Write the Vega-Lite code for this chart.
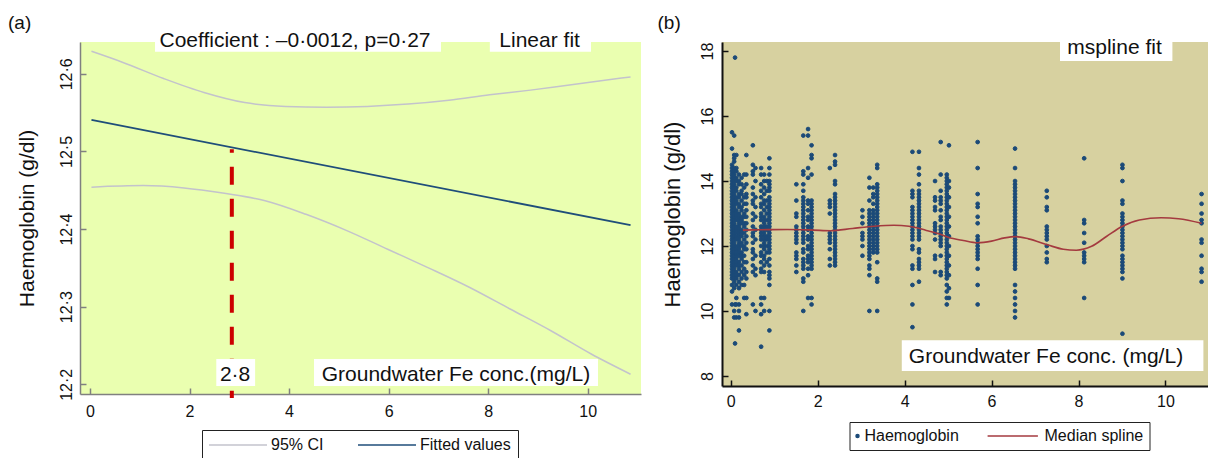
{
"$schema": "https://vega.github.io/schema/vega-lite/v6.json",
"padding": {"left": 8, "top": 14, "right": 0, "bottom": 0},
"spacing": 81,
"bounds": "flush",
"config": {"font": "Liberation Sans", "view": {"stroke": null}},
"resolve": {"scale": {"color": "independent", "shape": "independent"}, "legend": {"color": "independent", "shape": "independent"}},
"datasets": {
"ci": [
{"x":0.03,"y":12.629,"b":"u"},{"x":0.65,"y":12.615,"b":"u"},{"x":1.48,"y":12.594,"b":"u"},{"x":2.29,"y":12.576,"b":"u"},{"x":3.11,"y":12.563,"b":"u"},{"x":3.93,"y":12.558,"b":"u"},{"x":4.75,"y":12.557,"b":"u"},{"x":5.57,"y":12.558,"b":"u"},{"x":6.39,"y":12.561,"b":"u"},{"x":7.21,"y":12.566,"b":"u"},{"x":8.03,"y":12.573,"b":"u"},{"x":8.85,"y":12.579,"b":"u"},{"x":9.67,"y":12.586,"b":"u"},{"x":10.86,"y":12.596,"b":"u"},
{"x":0.03,"y":12.454,"b":"l"},{"x":1.07,"y":12.456,"b":"l"},{"x":1.89,"y":12.453,"b":"l"},{"x":2.70,"y":12.446,"b":"l"},{"x":3.52,"y":12.4365,"b":"l"},{"x":4.34,"y":12.419,"b":"l"},{"x":5.16,"y":12.398,"b":"l"},{"x":5.98,"y":12.374,"b":"l"},{"x":6.80,"y":12.350,"b":"l"},{"x":7.62,"y":12.325,"b":"l"},{"x":8.44,"y":12.297,"b":"l"},{"x":9.26,"y":12.269,"b":"l"},{"x":10.07,"y":12.239,"b":"l"},{"x":10.86,"y":12.213,"b":"l"}
],
"fit": [{"x":0.03,"y":12.5406},{"x":10.86,"y":12.405}],
"annL": [
{"t":"Coefficient : –0·0012, p=0·27","x":4.119,"y":12.6346,"x1":1.307,"x2":7.052,"y1":12.6574,"y2":12.6285},
{"t":"Linear fit","x":9.033,"y":12.635,"x1":8.033,"x2":10.066,"y1":12.6574,"y2":12.6285},
{"t":"2·8","x":2.916,"y":12.2043,"x1":2.538,"x2":3.318,"y1":12.2326,"y2":12.1978},
{"t":"Groundwater Fe conc.(mg/L)","x":7.353,"y":12.2045,"x1":4.501,"x2":10.206,"y1":12.2326,"y2":12.1978}
],
"annR": [
{"t":"mspline fit","x":8.827,"y":17.92,"x1":7.574,"x2":10.159,"y1":18.332,"y2":17.695},
{"t":"Groundwater Fe conc. (mg/L)","x":7.252,"y":8.406,"x1":3.935,"x2":10.872,"y1":9.096,"y2":8.151}
],
"spl": [
{"x":0.28,"y":12.49},{"x":0.7,"y":12.50},{"x":1.3,"y":12.51},{"x":1.9,"y":12.49},{"x":2.3,"y":12.47},{"x":2.8,"y":12.54},{"x":3.3,"y":12.61},{"x":3.75,"y":12.64},{"x":4.1,"y":12.61},{"x":4.5,"y":12.48},{"x":4.8,"y":12.37},{"x":5.0,"y":12.27},{"x":5.35,"y":12.17},{"x":5.68,"y":12.10},{"x":6.0,"y":12.15},{"x":6.3,"y":12.25},{"x":6.55,"y":12.29},{"x":6.85,"y":12.22},{"x":7.3,"y":12.03},{"x":7.65,"y":11.90},{"x":7.95,"y":11.87},{"x":8.3,"y":11.99},{"x":8.65,"y":12.30},{"x":9.0,"y":12.60},{"x":9.4,"y":12.80},{"x":9.9,"y":12.87},{"x":10.3,"y":12.84},{"x":10.83,"y":12.70}
],
"hb": [
{"x":0.03,"y":15.5},{"x":0.03,"y":15.0},{"x":0.03,"y":14.5},{"x":0.03,"y":14.4},{"x":0.03,"y":14.3},{"x":0.03,"y":14.2},{"x":0.03,"y":14.1},{"x":0.03,"y":14.0},{"x":0.03,"y":13.9},{"x":0.03,"y":13.8},{"x":0.03,"y":13.7},{"x":0.03,"y":13.6},{"x":0.03,"y":13.5},{"x":0.03,"y":13.4},{"x":0.03,"y":13.3},{"x":0.03,"y":13.2},{"x":0.03,"y":13.1},{"x":0.03,"y":13.0},{"x":0.03,"y":12.9},{"x":0.03,"y":12.8},{"x":0.03,"y":12.7},{"x":0.03,"y":12.6},{"x":0.03,"y":12.5},{"x":0.03,"y":12.4},{"x":0.03,"y":12.3},{"x":0.03,"y":12.2},{"x":0.03,"y":12.1},{"x":0.03,"y":12.0},{"x":0.03,"y":11.9},{"x":0.03,"y":11.8},{"x":0.03,"y":11.7},{"x":0.03,"y":11.6},{"x":0.03,"y":11.5},{"x":0.03,"y":11.4},{"x":0.03,"y":11.3},{"x":0.03,"y":11.2},{"x":0.03,"y":11.1},{"x":0.03,"y":11.0},{"x":0.03,"y":10.8},{"x":0.03,"y":10.6},{"x":0.03,"y":10.2},
{"x":0.08,"y":15.4},{"x":0.08,"y":14.8},{"x":0.08,"y":14.7},{"x":0.08,"y":14.6},{"x":0.08,"y":14.4},{"x":0.08,"y":14.3},{"x":0.08,"y":14.2},{"x":0.08,"y":14.1},{"x":0.08,"y":14.0},{"x":0.08,"y":13.9},{"x":0.08,"y":13.8},{"x":0.08,"y":13.7},{"x":0.08,"y":13.6},{"x":0.08,"y":13.5},{"x":0.08,"y":13.4},{"x":0.08,"y":13.3},{"x":0.08,"y":13.2},{"x":0.08,"y":13.1},{"x":0.08,"y":13.0},{"x":0.08,"y":12.9},{"x":0.08,"y":12.8},{"x":0.08,"y":12.7},{"x":0.08,"y":12.6},{"x":0.08,"y":12.5},{"x":0.08,"y":12.4},{"x":0.08,"y":12.3},{"x":0.08,"y":12.2},{"x":0.08,"y":12.1},{"x":0.08,"y":12.0},{"x":0.08,"y":11.9},{"x":0.08,"y":11.8},{"x":0.08,"y":11.7},{"x":0.08,"y":11.6},{"x":0.08,"y":11.5},{"x":0.08,"y":11.4},{"x":0.08,"y":11.3},{"x":0.08,"y":11.2},{"x":0.08,"y":11.1},{"x":0.08,"y":11.0},{"x":0.08,"y":10.9},{"x":0.08,"y":10.7},{"x":0.08,"y":10.0},{"x":0.08,"y":9.8},
{"x":0.10,"y":17.8},{"x":0.10,"y":9.0},{"x":0.10,"y":10.2},
{"x":0.13,"y":14.8},{"x":0.13,"y":14.4},{"x":0.13,"y":14.3},{"x":0.13,"y":14.1},{"x":0.13,"y":14.0},{"x":0.13,"y":13.8},{"x":0.13,"y":13.7},{"x":0.13,"y":13.5},{"x":0.13,"y":13.4},{"x":0.13,"y":13.3},{"x":0.13,"y":13.1},{"x":0.13,"y":13.0},{"x":0.13,"y":12.9},{"x":0.13,"y":12.8},{"x":0.13,"y":12.6},{"x":0.13,"y":12.5},{"x":0.13,"y":12.4},{"x":0.13,"y":12.3},{"x":0.13,"y":12.2},{"x":0.13,"y":12.0},{"x":0.13,"y":11.9},{"x":0.13,"y":11.8},{"x":0.13,"y":11.7},{"x":0.13,"y":11.6},{"x":0.13,"y":11.5},{"x":0.13,"y":11.4},{"x":0.13,"y":11.2},{"x":0.13,"y":11.1},{"x":0.13,"y":11.0},{"x":0.13,"y":10.8},{"x":0.13,"y":10.4},{"x":0.13,"y":10.2},{"x":0.13,"y":9.8},
{"x":0.19,"y":14.2},{"x":0.19,"y":14.0},{"x":0.19,"y":13.9},{"x":0.19,"y":13.6},{"x":0.19,"y":13.5},{"x":0.19,"y":13.3},{"x":0.19,"y":13.2},{"x":0.19,"y":13.0},{"x":0.19,"y":12.9},{"x":0.19,"y":12.8},{"x":0.19,"y":12.7},{"x":0.19,"y":12.6},{"x":0.19,"y":12.5},{"x":0.19,"y":12.4},{"x":0.19,"y":12.3},{"x":0.19,"y":12.2},{"x":0.19,"y":12.1},{"x":0.19,"y":12.0},{"x":0.19,"y":11.9},{"x":0.19,"y":11.8},{"x":0.19,"y":11.7},{"x":0.19,"y":11.5},{"x":0.19,"y":11.4},{"x":0.19,"y":11.3},{"x":0.19,"y":11.1},{"x":0.19,"y":10.9},{"x":0.19,"y":10.7},{"x":0.19,"y":10.2},{"x":0.19,"y":10.0},{"x":0.19,"y":9.8},{"x":0.19,"y":9.4},
{"x":0.25,"y":14.1},{"x":0.25,"y":13.9},{"x":0.25,"y":13.7},{"x":0.25,"y":13.6},{"x":0.25,"y":13.4},{"x":0.25,"y":13.2},{"x":0.25,"y":13.1},{"x":0.25,"y":12.9},{"x":0.25,"y":12.8},{"x":0.25,"y":12.7},{"x":0.25,"y":12.5},{"x":0.25,"y":12.4},{"x":0.25,"y":12.3},{"x":0.25,"y":12.1},{"x":0.25,"y":12.0},{"x":0.25,"y":11.8},{"x":0.25,"y":11.7},{"x":0.25,"y":11.6},{"x":0.25,"y":11.4},{"x":0.25,"y":11.2},{"x":0.25,"y":11.0},{"x":0.25,"y":10.8},
{"x":0.31,"y":14.2},{"x":0.31,"y":13.8},{"x":0.31,"y":13.5},{"x":0.31,"y":13.3},{"x":0.31,"y":13.0},{"x":0.31,"y":12.9},{"x":0.31,"y":12.7},{"x":0.31,"y":12.6},{"x":0.31,"y":12.4},{"x":0.31,"y":12.2},{"x":0.31,"y":12.0},{"x":0.31,"y":11.9},{"x":0.31,"y":11.7},{"x":0.31,"y":11.5},{"x":0.31,"y":11.3},{"x":0.31,"y":11.1},{"x":0.31,"y":10.8},{"x":0.31,"y":10.4},
{"x":0.36,"y":14.8},{"x":0.36,"y":14.2},{"x":0.36,"y":13.9},{"x":0.36,"y":13.6},{"x":0.36,"y":13.5},{"x":0.36,"y":13.3},{"x":0.36,"y":13.1},{"x":0.36,"y":12.9},{"x":0.36,"y":12.7},{"x":0.36,"y":12.5},{"x":0.36,"y":12.3},{"x":0.36,"y":12.1},{"x":0.36,"y":11.9},{"x":0.36,"y":11.5},{"x":0.36,"y":11.2},{"x":0.36,"y":11.0},{"x":0.36,"y":10.4},{"x":0.36,"y":9.9},
{"x":0.51,"y":15.1},{"x":0.51,"y":14.5},{"x":0.51,"y":14.3},{"x":0.51,"y":14.2},{"x":0.51,"y":13.8},{"x":0.51,"y":13.6},{"x":0.51,"y":13.4},{"x":0.51,"y":13.3},{"x":0.51,"y":13.0},{"x":0.51,"y":12.8},{"x":0.51,"y":12.6},{"x":0.51,"y":12.4},{"x":0.51,"y":12.3},{"x":0.51,"y":12.1},{"x":0.51,"y":11.9},{"x":0.51,"y":11.8},{"x":0.51,"y":11.6},{"x":0.51,"y":11.4},{"x":0.51,"y":11.2},{"x":0.51,"y":10.2},
{"x":0.57,"y":14.4},{"x":0.57,"y":14.0},{"x":0.57,"y":13.5},{"x":0.57,"y":13.2},{"x":0.57,"y":12.9},{"x":0.57,"y":12.5},{"x":0.57,"y":12.2},{"x":0.57,"y":11.7},{"x":0.57,"y":11.3},{"x":0.57,"y":11.1},{"x":0.57,"y":10.0},
{"x":0.70,"y":14.4},{"x":0.70,"y":14.2},{"x":0.70,"y":13.9},{"x":0.70,"y":13.7},{"x":0.70,"y":13.5},{"x":0.70,"y":13.3},{"x":0.70,"y":13.2},{"x":0.70,"y":13.0},{"x":0.70,"y":12.9},{"x":0.70,"y":12.8},{"x":0.70,"y":12.6},{"x":0.70,"y":12.5},{"x":0.70,"y":12.4},{"x":0.70,"y":12.3},{"x":0.70,"y":12.2},{"x":0.70,"y":12.0},{"x":0.70,"y":11.8},{"x":0.70,"y":11.7},{"x":0.70,"y":11.5},{"x":0.70,"y":11.3},{"x":0.70,"y":11.2},{"x":0.70,"y":10.4},{"x":0.70,"y":10.2},{"x":0.70,"y":9.9},{"x":0.70,"y":8.9},
{"x":0.77,"y":14.2},{"x":0.77,"y":14.0},{"x":0.77,"y":13.8},{"x":0.77,"y":13.6},{"x":0.77,"y":13.4},{"x":0.77,"y":13.3},{"x":0.77,"y":13.1},{"x":0.77,"y":12.9},{"x":0.77,"y":12.8},{"x":0.77,"y":12.7},{"x":0.77,"y":12.6},{"x":0.77,"y":12.5},{"x":0.77,"y":12.4},{"x":0.77,"y":12.3},{"x":0.77,"y":12.2},{"x":0.77,"y":12.1},{"x":0.77,"y":12.0},{"x":0.77,"y":11.9},{"x":0.77,"y":11.7},{"x":0.77,"y":11.6},{"x":0.77,"y":11.4},{"x":0.77,"y":11.2},{"x":0.77,"y":10.4},{"x":0.77,"y":10.0},
{"x":0.83,"y":14.0},{"x":0.83,"y":13.7},{"x":0.83,"y":13.4},{"x":0.83,"y":13.2},{"x":0.83,"y":13.0},{"x":0.83,"y":12.8},{"x":0.83,"y":12.6},{"x":0.83,"y":12.5},{"x":0.83,"y":12.3},{"x":0.83,"y":12.2},{"x":0.83,"y":12.0},{"x":0.83,"y":11.8},{"x":0.83,"y":11.5},
{"x":0.89,"y":14.7},{"x":0.89,"y":14.4},{"x":0.89,"y":14.2},{"x":0.89,"y":14.0},{"x":0.89,"y":13.9},{"x":0.89,"y":13.8},{"x":0.89,"y":13.7},{"x":0.89,"y":13.5},{"x":0.89,"y":13.4},{"x":0.89,"y":13.3},{"x":0.89,"y":13.2},{"x":0.89,"y":13.1},{"x":0.89,"y":13.0},{"x":0.89,"y":12.9},{"x":0.89,"y":12.8},{"x":0.89,"y":12.7},{"x":0.89,"y":12.6},{"x":0.89,"y":12.5},{"x":0.89,"y":12.4},{"x":0.89,"y":12.3},{"x":0.89,"y":12.2},{"x":0.89,"y":12.1},{"x":0.89,"y":12.0},{"x":0.89,"y":11.9},{"x":0.89,"y":11.8},{"x":0.89,"y":11.6},{"x":0.89,"y":11.4},{"x":0.89,"y":11.2},{"x":0.89,"y":11.1},{"x":0.89,"y":11.0},{"x":0.89,"y":10.8},{"x":0.89,"y":10.0},{"x":0.89,"y":9.4},
{"x":1.51,"y":13.9},{"x":1.51,"y":13.4},{"x":1.51,"y":13.0},{"x":1.51,"y":12.9},{"x":1.51,"y":12.6},{"x":1.51,"y":12.5},{"x":1.51,"y":12.4},{"x":1.51,"y":12.3},{"x":1.51,"y":12.2},{"x":1.51,"y":12.1},{"x":1.51,"y":11.8},{"x":1.51,"y":11.7},{"x":1.51,"y":11.6},{"x":1.51,"y":11.4},{"x":1.51,"y":11.2},
{"x":1.67,"y":15.4},{"x":1.67,"y":14.3},{"x":1.67,"y":14.2},{"x":1.67,"y":13.9},{"x":1.67,"y":13.7},{"x":1.67,"y":13.5},{"x":1.67,"y":13.4},{"x":1.67,"y":13.3},{"x":1.67,"y":13.2},{"x":1.67,"y":13.1},{"x":1.67,"y":13.0},{"x":1.67,"y":12.9},{"x":1.67,"y":12.8},{"x":1.67,"y":12.7},{"x":1.67,"y":12.6},{"x":1.67,"y":12.5},{"x":1.67,"y":12.4},{"x":1.67,"y":12.3},{"x":1.67,"y":12.2},{"x":1.67,"y":12.1},{"x":1.67,"y":11.9},{"x":1.67,"y":11.8},{"x":1.67,"y":11.6},{"x":1.67,"y":11.5},{"x":1.67,"y":11.4},{"x":1.67,"y":11.3},{"x":1.67,"y":11.0},{"x":1.67,"y":10.9},{"x":1.67,"y":10.0},
{"x":1.78,"y":15.6},{"x":1.78,"y":15.4},{"x":1.78,"y":14.4},{"x":1.78,"y":14.1},{"x":1.78,"y":13.4},{"x":1.78,"y":13.3},{"x":1.78,"y":13.1},{"x":1.78,"y":12.9},{"x":1.78,"y":12.8},{"x":1.78,"y":12.6},{"x":1.78,"y":12.5},{"x":1.78,"y":12.3},{"x":1.78,"y":12.2},{"x":1.78,"y":12.0},{"x":1.78,"y":11.9},{"x":1.78,"y":11.7},{"x":1.78,"y":11.6},{"x":1.78,"y":11.5},{"x":1.78,"y":11.3},{"x":1.78,"y":11.1},{"x":1.78,"y":10.4},
{"x":1.86,"y":15.1},{"x":1.86,"y":14.8},{"x":1.86,"y":14.7},{"x":1.86,"y":14.2},{"x":1.86,"y":13.4},{"x":1.86,"y":13.3},{"x":1.86,"y":13.2},{"x":1.86,"y":13.1},{"x":1.86,"y":13.0},{"x":1.86,"y":12.9},{"x":1.86,"y":12.8},{"x":1.86,"y":12.7},{"x":1.86,"y":12.6},{"x":1.86,"y":12.5},{"x":1.86,"y":12.4},{"x":1.86,"y":12.3},{"x":1.86,"y":12.2},{"x":1.86,"y":12.1},{"x":1.86,"y":12.0},{"x":1.86,"y":11.9},{"x":1.86,"y":11.8},{"x":1.86,"y":11.7},{"x":1.86,"y":11.6},{"x":1.86,"y":11.5},{"x":1.86,"y":11.4},{"x":1.86,"y":11.3},{"x":1.86,"y":10.4},{"x":1.86,"y":10.2},
{"x":2.28,"y":14.4},{"x":2.28,"y":13.4},{"x":2.28,"y":13.3},{"x":2.28,"y":13.2},{"x":2.28,"y":13.0},{"x":2.28,"y":12.4},{"x":2.28,"y":12.3},{"x":2.28,"y":12.2},{"x":2.28,"y":12.1},{"x":2.28,"y":11.9},{"x":2.28,"y":11.6},{"x":2.28,"y":11.4},
{"x":2.40,"y":14.8},{"x":2.40,"y":14.6},{"x":2.40,"y":14.5},{"x":2.40,"y":14.0},{"x":2.40,"y":13.9},{"x":2.40,"y":13.6},{"x":2.40,"y":13.5},{"x":2.40,"y":13.4},{"x":2.40,"y":13.3},{"x":2.40,"y":13.2},{"x":2.40,"y":13.1},{"x":2.40,"y":13.0},{"x":2.40,"y":12.9},{"x":2.40,"y":12.8},{"x":2.40,"y":12.7},{"x":2.40,"y":12.6},{"x":2.40,"y":12.5},{"x":2.40,"y":12.4},{"x":2.40,"y":12.3},{"x":2.40,"y":12.2},{"x":2.40,"y":12.1},{"x":2.40,"y":12.0},{"x":2.40,"y":11.9},{"x":2.40,"y":11.8},{"x":2.40,"y":11.7},{"x":2.40,"y":11.6},{"x":2.40,"y":11.5},{"x":2.40,"y":11.4},
{"x":3.03,"y":13.1},{"x":3.03,"y":12.9},{"x":3.03,"y":12.7},{"x":3.03,"y":12.4},{"x":3.03,"y":12.3},{"x":3.03,"y":12.2},{"x":3.03,"y":12.0},{"x":3.03,"y":11.7},
{"x":3.19,"y":14.1},{"x":3.19,"y":13.8},{"x":3.19,"y":13.4},{"x":3.19,"y":13.1},{"x":3.19,"y":13.0},{"x":3.19,"y":12.9},{"x":3.19,"y":12.8},{"x":3.19,"y":12.7},{"x":3.19,"y":12.6},{"x":3.19,"y":12.5},{"x":3.19,"y":12.4},{"x":3.19,"y":12.3},{"x":3.19,"y":12.2},{"x":3.19,"y":12.1},{"x":3.19,"y":12.0},{"x":3.19,"y":11.9},{"x":3.19,"y":11.8},{"x":3.19,"y":11.7},{"x":3.19,"y":11.6},{"x":3.19,"y":11.4},{"x":3.19,"y":11.3},{"x":3.19,"y":11.1},{"x":3.19,"y":10.0},
{"x":3.28,"y":13.8},{"x":3.28,"y":13.6},{"x":3.28,"y":13.5},{"x":3.28,"y":13.3},{"x":3.28,"y":13.1},{"x":3.28,"y":13.0},{"x":3.28,"y":12.9},{"x":3.28,"y":12.8},{"x":3.28,"y":12.7},{"x":3.28,"y":12.6},{"x":3.28,"y":12.5},{"x":3.28,"y":12.4},{"x":3.28,"y":12.3},{"x":3.28,"y":12.2},{"x":3.28,"y":12.1},{"x":3.28,"y":12.0},{"x":3.28,"y":11.9},{"x":3.28,"y":11.8},
{"x":3.37,"y":14.5},{"x":3.37,"y":14.4},{"x":3.37,"y":13.9},{"x":3.37,"y":13.8},{"x":3.37,"y":13.7},{"x":3.37,"y":13.6},{"x":3.37,"y":13.5},{"x":3.37,"y":13.4},{"x":3.37,"y":13.3},{"x":3.37,"y":13.2},{"x":3.37,"y":13.1},{"x":3.37,"y":13.0},{"x":3.37,"y":12.9},{"x":3.37,"y":12.8},{"x":3.37,"y":12.7},{"x":3.37,"y":12.6},{"x":3.37,"y":12.5},{"x":3.37,"y":12.4},{"x":3.37,"y":12.3},{"x":3.37,"y":12.2},{"x":3.37,"y":12.1},{"x":3.37,"y":12.0},{"x":3.37,"y":11.9},{"x":3.37,"y":11.8},{"x":3.37,"y":11.5},{"x":3.37,"y":11.0},{"x":3.37,"y":10.9},{"x":3.37,"y":10.0},
{"x":4.18,"y":14.9},{"x":4.18,"y":13.7},{"x":4.18,"y":13.6},{"x":4.18,"y":13.5},{"x":4.18,"y":13.2},{"x":4.18,"y":13.1},{"x":4.18,"y":13.0},{"x":4.18,"y":12.9},{"x":4.18,"y":12.8},{"x":4.18,"y":12.7},{"x":4.18,"y":12.6},{"x":4.18,"y":12.5},{"x":4.18,"y":12.4},{"x":4.18,"y":12.3},{"x":4.18,"y":12.2},{"x":4.18,"y":12.0},{"x":4.18,"y":11.9},{"x":4.18,"y":11.4},{"x":4.18,"y":11.3},{"x":4.18,"y":10.8},{"x":4.18,"y":10.2},{"x":4.18,"y":9.5},
{"x":4.33,"y":14.9},{"x":4.33,"y":14.4},{"x":4.33,"y":14.2},{"x":4.33,"y":13.9},{"x":4.33,"y":13.7},{"x":4.33,"y":13.6},{"x":4.33,"y":13.5},{"x":4.33,"y":13.4},{"x":4.33,"y":13.3},{"x":4.33,"y":13.2},{"x":4.33,"y":13.1},{"x":4.33,"y":13.0},{"x":4.33,"y":12.9},{"x":4.33,"y":12.8},{"x":4.33,"y":12.7},{"x":4.33,"y":12.6},{"x":4.33,"y":12.5},{"x":4.33,"y":12.4},{"x":4.33,"y":12.3},{"x":4.33,"y":12.2},{"x":4.33,"y":11.9},{"x":4.33,"y":11.8},{"x":4.33,"y":11.6},{"x":4.33,"y":11.5},{"x":4.33,"y":11.4},{"x":4.33,"y":11.3},{"x":4.33,"y":10.9},
{"x":4.70,"y":14.0},{"x":4.70,"y":13.5},{"x":4.70,"y":13.4},{"x":4.70,"y":13.2},{"x":4.70,"y":13.1},{"x":4.70,"y":12.7},{"x":4.70,"y":12.6},{"x":4.70,"y":12.5},{"x":4.70,"y":12.4},{"x":4.70,"y":12.2},{"x":4.70,"y":11.7},{"x":4.70,"y":11.6},{"x":4.70,"y":11.2},
{"x":4.83,"y":15.2},{"x":4.83,"y":14.2},{"x":4.83,"y":13.7},{"x":4.83,"y":13.5},{"x":4.83,"y":13.4},{"x":4.83,"y":13.3},{"x":4.83,"y":13.1},{"x":4.83,"y":12.9},{"x":4.83,"y":12.8},{"x":4.83,"y":12.6},{"x":4.83,"y":12.5},{"x":4.83,"y":12.4},{"x":4.83,"y":12.3},{"x":4.83,"y":12.2},{"x":4.83,"y":12.1},{"x":4.83,"y":12.0},{"x":4.83,"y":11.7},{"x":4.83,"y":11.2},{"x":4.83,"y":11.1},
{"x":4.97,"y":14.2},{"x":4.97,"y":14.1},{"x":4.97,"y":14.0},{"x":4.97,"y":13.9},{"x":4.97,"y":13.8},{"x":4.97,"y":13.7},{"x":4.97,"y":13.6},{"x":4.97,"y":13.5},{"x":4.97,"y":13.4},{"x":4.97,"y":13.3},{"x":4.97,"y":13.2},{"x":4.97,"y":13.1},{"x":4.97,"y":13.0},{"x":4.97,"y":12.9},{"x":4.97,"y":12.8},{"x":4.97,"y":12.7},{"x":4.97,"y":12.6},{"x":4.97,"y":12.5},{"x":4.97,"y":12.4},{"x":4.97,"y":12.3},{"x":4.97,"y":12.2},{"x":4.97,"y":12.1},{"x":4.97,"y":12.0},{"x":4.97,"y":11.9},{"x":4.97,"y":11.8},{"x":4.97,"y":11.7},{"x":4.97,"y":11.6},{"x":4.97,"y":11.5},{"x":4.97,"y":11.4},{"x":4.97,"y":11.3},{"x":4.97,"y":11.2},{"x":4.97,"y":11.1},{"x":4.97,"y":11.0},{"x":4.97,"y":10.8},{"x":4.97,"y":10.6},{"x":4.97,"y":10.4},{"x":4.97,"y":10.2},
{"x":5.02,"y":15.1},{"x":5.02,"y":14.0},{"x":5.02,"y":13.8},{"x":5.02,"y":13.5},{"x":5.02,"y":13.2},{"x":5.02,"y":12.9},{"x":5.02,"y":12.6},{"x":5.02,"y":12.3},{"x":5.02,"y":12.0},{"x":5.02,"y":11.7},{"x":5.02,"y":11.4},{"x":5.02,"y":11.1},{"x":5.02,"y":10.7},{"x":5.02,"y":10.4},
{"x":5.68,"y":15.2},{"x":5.68,"y":14.4},{"x":5.68,"y":13.6},{"x":5.68,"y":13.3},{"x":5.68,"y":13.2},{"x":5.68,"y":12.9},{"x":5.68,"y":12.7},{"x":5.68,"y":12.3},{"x":5.68,"y":12.2},{"x":5.68,"y":12.1},{"x":5.68,"y":12.0},{"x":5.68,"y":11.9},{"x":5.68,"y":11.8},{"x":5.68,"y":11.7},{"x":5.68,"y":11.6},{"x":5.68,"y":11.3},{"x":5.68,"y":10.8},{"x":5.68,"y":10.2},
{"x":6.54,"y":15.0},{"x":6.54,"y":14.4},{"x":6.54,"y":14.0},{"x":6.54,"y":13.9},{"x":6.54,"y":13.8},{"x":6.54,"y":13.7},{"x":6.54,"y":13.6},{"x":6.54,"y":13.5},{"x":6.54,"y":13.4},{"x":6.54,"y":13.3},{"x":6.54,"y":13.2},{"x":6.54,"y":13.1},{"x":6.54,"y":13.0},{"x":6.54,"y":12.9},{"x":6.54,"y":12.8},{"x":6.54,"y":12.7},{"x":6.54,"y":12.6},{"x":6.54,"y":12.5},{"x":6.54,"y":12.4},{"x":6.54,"y":12.3},{"x":6.54,"y":12.2},{"x":6.54,"y":12.1},{"x":6.54,"y":12.0},{"x":6.54,"y":11.9},{"x":6.54,"y":11.8},{"x":6.54,"y":11.7},{"x":6.54,"y":11.6},{"x":6.54,"y":11.5},{"x":6.54,"y":11.4},{"x":6.54,"y":11.3},{"x":6.54,"y":10.8},{"x":6.54,"y":10.6},{"x":6.54,"y":10.4},{"x":6.54,"y":10.2},{"x":6.54,"y":10.0},{"x":6.54,"y":9.8},
{"x":7.27,"y":13.7},{"x":7.27,"y":13.5},{"x":7.27,"y":13.2},{"x":7.27,"y":13.1},{"x":7.27,"y":12.6},{"x":7.27,"y":12.5},{"x":7.27,"y":12.4},{"x":7.27,"y":12.3},{"x":7.27,"y":12.2},{"x":7.27,"y":12.0},{"x":7.27,"y":11.8},{"x":7.27,"y":11.6},{"x":7.27,"y":11.5},
{"x":8.13,"y":14.7},{"x":8.13,"y":12.8},{"x":8.13,"y":12.7},{"x":8.13,"y":12.4},{"x":8.13,"y":12.1},{"x":8.13,"y":11.8},{"x":8.13,"y":11.7},{"x":8.13,"y":11.6},{"x":8.13,"y":11.5},{"x":8.13,"y":10.4},
{"x":9.01,"y":14.5},{"x":9.01,"y":14.4},{"x":9.01,"y":14.0},{"x":9.01,"y":13.4},{"x":9.01,"y":13.3},{"x":9.01,"y":13.0},{"x":9.01,"y":12.9},{"x":9.01,"y":12.8},{"x":9.01,"y":12.7},{"x":9.01,"y":12.6},{"x":9.01,"y":12.5},{"x":9.01,"y":12.4},{"x":9.01,"y":12.3},{"x":9.01,"y":12.2},{"x":9.01,"y":12.1},{"x":9.01,"y":12.0},{"x":9.01,"y":11.9},{"x":9.01,"y":11.7},{"x":9.01,"y":11.6},{"x":9.01,"y":11.5},{"x":9.01,"y":11.4},{"x":9.01,"y":11.3},{"x":9.01,"y":11.2},{"x":9.01,"y":11.0},{"x":9.01,"y":9.3},
{"x":10.83,"y":13.6},{"x":10.83,"y":13.3},{"x":10.83,"y":13.0},{"x":10.83,"y":12.8},{"x":10.83,"y":12.7},{"x":10.83,"y":12.2},{"x":10.83,"y":12.1},{"x":10.83,"y":11.7},{"x":10.83,"y":11.3},{"x":10.83,"y":11.2},{"x":10.83,"y":10.9}
]
},
"hconcat": [
{
"width": 561, "height": 352,
"view": {"fill": "#eaffb0", "stroke": null},
"encoding": {
"x": {"field": "x", "type": "quantitative", "scale": {"domain": [-0.2, 11.07], "nice": false, "zero": false},
 "axis": {"values": [0,2,4,6,8,10], "title": null, "grid": false, "tickSize": -6, "labelPadding": 15, "labelFontSize": 16, "labelColor": "#111", "domainColor": "#808080", "tickColor": "#808080", "domainWidth": 1.5, "tickWidth": 1.5, "labelFlush": false}},
"y": {"field": "y", "type": "quantitative", "scale": {"domain": [12.1875, 12.641], "nice": false, "zero": false},
 "axis": {"values": [12.2,12.3,12.4,12.5,12.6], "title": "Haemoglobin (g/dl)", "titleFontSize": 21, "titleFontWeight": "normal", "titleColor": "#111", "titleAngle": -90, "titleBaseline": "bottom", "titleX": -43, "titleY": 176, "titleAlign": "center", "grid": false, "tickSize": -6, "labelPadding": 12, "labelFontSize": 16, "labelColor": "#111", "labelAngle": -90, "labelAlign": "center", "labelBaseline": "bottom", "labelExpr": "replace(format(datum.value, '.1f'), '.', '·')", "domainColor": "#808080", "tickColor": "#808080", "domainWidth": 1.5, "tickWidth": 1.5, "labelFlush": false}}
},
"layer": [
{"data": {"name": "ci"}, "mark": {"type": "line", "interpolate": "monotone", "strokeWidth": 1.5},
 "encoding": {"detail": {"field": "b"},
  "color": {"datum": "95% CI", "scale": {"domain": ["95% CI", "Fitted values"], "range": ["#c3c3cc", "#1f4e7a"]},
   "legend": {"orient": "none", "legendX": 122, "legendY": 388, "direction": "horizontal", "title": null, "strokeColor": "#222", "fillColor": "white", "padding": 7, "labelFontSize": 16, "labelColor": "#111", "symbolType": "M-1.333,0H8.333", "symbolSize": 144, "symbolStrokeWidth": 1.5, "labelOffset": 46, "columnPadding": 31}}}},
{"data": {"name": "fit"}, "mark": {"type": "line", "strokeWidth": 1.8},
 "encoding": {"color": {"datum": "Fitted values"}}},
{"data": {"values": [{"x": 2.85, "y": 12.5028, "y2": 12.1824}]}, "mark": {"type": "rule", "color": "#cc0000", "strokeWidth": 4, "strokeDash": [18, 14], "strokeDashOffset": 14.6},
 "encoding": {"y2": {"field": "y2"}}},
{"data": {"name": "annL"}, "mark": {"type": "rect", "fill": "white"},
 "encoding": {"x": {"field": "x1", "type": "quantitative"}, "x2": {"field": "x2"}, "y": {"field": "y1", "type": "quantitative"}, "y2": {"field": "y2"}}},
{"data": {"name": "annL"}, "mark": {"type": "text", "fontSize": 21, "align": "center", "baseline": "alphabetic", "color": "#111"},
 "encoding": {"text": {"field": "t"}}},
{"data": {"values": [{"t": "(a)", "x": -1.6464, "y": 12.6577}]}, "mark": {"type": "text", "fontSize": 19, "align": "left", "baseline": "alphabetic", "color": "#111"},
 "encoding": {"text": {"field": "t"}}}
]
},
{
"width": 490, "height": 344,
"view": {"fill": "#d7d1a0", "stroke": null},
"encoding": {
"x": {"field": "x", "type": "quantitative", "scale": {"domain": [-0.2, 11.07], "nice": false, "zero": false},
 "axis": {"values": [0,2,4,6,8,10], "title": null, "grid": false, "tickSize": -6, "labelPadding": 13, "labelFontSize": 16, "labelColor": "#111", "domainColor": "#111", "tickColor": "#111", "domainWidth": 2, "tickWidth": 1.5, "labelFlush": false}},
"y": {"field": "y", "type": "quantitative", "scale": {"domain": [7.69, 18.28], "nice": false, "zero": false},
 "axis": {"values": [8,10,12,14,16,18], "title": "Haemoglobin (g/dl)", "titleFontSize": 22, "titleFontWeight": "normal", "titleColor": "#111", "titleAngle": -90, "titleBaseline": "bottom", "titleX": -37.5, "titleY": 172, "titleAlign": "center", "grid": false, "tickSize": -6, "labelPadding": 13, "labelFontSize": 16, "labelColor": "#111", "labelAngle": -90, "labelAlign": "center", "labelBaseline": "bottom", "domainColor": "#111", "tickColor": "#111", "domainWidth": 2, "tickWidth": 1.5, "labelFlush": false}}
},
"layer": [
{"data": {"name": "hb"}, "mark": {"type": "point", "filled": false, "fill": "#1b4a78", "size": 14, "strokeWidth": 1, "opacity": 1},
 "encoding": {
  "color": {"datum": "Haemoglobin", "scale": {"domain": ["Haemoglobin", "Median spline"], "range": ["#1b4a78", "#a43a3f"]},
   "legend": {"orient": "none", "legendX": 127.5, "legendY": 380, "direction": "horizontal", "title": null, "strokeColor": "#222", "fillColor": "white", "padding": 6, "labelFontSize": 16, "labelColor": "#111", "symbolSize": 9, "symbolOffset": -6, "symbolStrokeWidth": 1.5, "labelOffset": -1, "columnPadding": 25,
    "encode": {"symbols": {"update": {"size": {"value": 9}, "strokeWidth": {"value": 1.5}, "opacity": {"value": 1}}}}}},
  "shape": {"datum": "Haemoglobin", "scale": {"domain": ["Haemoglobin", "Median spline"], "range": ["circle", "M-33.27,0H0.27"]},
   "legend": {"orient": "none", "legendX": 127.5, "legendY": 380, "direction": "horizontal", "title": null, "strokeColor": "#222", "fillColor": "white", "padding": 6, "labelFontSize": 16, "labelColor": "#111", "symbolSize": 9, "symbolOffset": -6, "symbolStrokeWidth": 1.5, "labelOffset": -1, "columnPadding": 25,
    "encode": {"symbols": {"update": {"size": {"value": 9}, "strokeWidth": {"value": 1.5}, "opacity": {"value": 1}}}}}}
 }},
{"data": {"name": "spl"}, "mark": {"type": "line", "interpolate": "monotone", "strokeWidth": 1.6, "color": "#a43a3f"},
 "encoding": {}},
{"data": {"name": "annR"}, "mark": {"type": "rect", "fill": "white"},
 "encoding": {"x": {"field": "x1", "type": "quantitative"}, "x2": {"field": "x2"}, "y": {"field": "y1", "type": "quantitative"}, "y2": {"field": "y2"}}},
{"data": {"name": "annR"}, "mark": {"type": "text", "fontSize": 21, "align": "center", "baseline": "alphabetic", "color": "#111"},
 "encoding": {"text": {"field": "t"}}},
{"data": {"values": [{"t": "(b)", "x": -1.6835, "y": 18.68}]}, "mark": {"type": "text", "fontSize": 19, "align": "left", "baseline": "alphabetic", "color": "#111"},
 "encoding": {"text": {"field": "t"}}}
]
}
]
}
